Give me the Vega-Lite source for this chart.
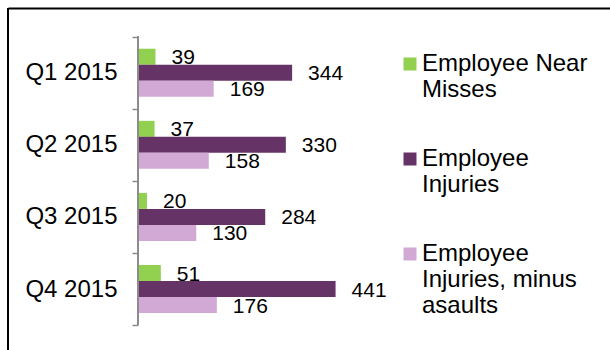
{
  "$schema": "https://vega.github.io/schema/vega-lite/v6.json",
  "width": 602,
  "height": 342,
  "autosize": {"type": "none"},
  "padding": {"left": 8, "top": 8, "right": 0, "bottom": 0},
  "background": "white",
  "config": {"view": {"stroke": null}, "font": "Liberation Sans"},
  "data": {
    "values": [
      {"quarter": "Q1 2015", "series": "Employee Near Misses", "value": 39},
      {"quarter": "Q1 2015", "series": "Employee Injuries", "value": 344},
      {"quarter": "Q1 2015", "series": "Employee Injuries, minus asaults", "value": 169},
      {"quarter": "Q2 2015", "series": "Employee Near Misses", "value": 37},
      {"quarter": "Q2 2015", "series": "Employee Injuries", "value": 330},
      {"quarter": "Q2 2015", "series": "Employee Injuries, minus asaults", "value": 158},
      {"quarter": "Q3 2015", "series": "Employee Near Misses", "value": 20},
      {"quarter": "Q3 2015", "series": "Employee Injuries", "value": 284},
      {"quarter": "Q3 2015", "series": "Employee Injuries, minus asaults", "value": 130},
      {"quarter": "Q4 2015", "series": "Employee Near Misses", "value": 51},
      {"quarter": "Q4 2015", "series": "Employee Injuries", "value": 441},
      {"quarter": "Q4 2015", "series": "Employee Injuries, minus asaults", "value": 176}
    ]
  },
  "encoding": {
    "y": {
      "field": "quarter",
      "type": "nominal",
      "sort": null,
      "scale": {"paddingInner": 0, "paddingOuter": 0.372, "align": 0.535},
      "axis": {
        "orient": "left",
        "offset": -130,
        "domain": false,
        "ticks": true,
        "tickBand": "extent",
        "tickSize": 6,
        "tickColor": "#8c8c8c",
        "tickWidth": 1.5,
        "labelFontSize": 24,
        "labelColor": "black",
        "labelPadding": 15,
        "title": null,
        "grid": false
      }
    },
    "x": {
      "field": "value",
      "type": "quantitative",
      "scale": {"domain": [-290.2, 1053.6], "nice": false, "zero": false},
      "axis": {
        "orient": "top",
        "domain": true,
        "domainColor": "black",
        "domainWidth": 2,
        "ticks": false,
        "labels": false,
        "grid": false,
        "title": null
      }
    }
  },
  "layer": [
    {
      "mark": {"type": "bar"},
      "encoding": {
        "yOffset": {
          "field": "series",
          "type": "nominal",
          "sort": ["Employee Near Misses", "Employee Injuries", "Employee Injuries, minus asaults"],
          "scale": {"paddingInner": 0, "paddingOuter": 0.753}
        },
        "color": {
          "field": "series",
          "type": "nominal",
          "scale": {
            "domain": ["Employee Near Misses", "Employee Injuries", "Employee Injuries, minus asaults"],
            "range": ["#92D050", "#663366", "#D1A9D4"]
          },
          "legend": {
            "orient": "none",
            "legendX": 390,
            "legendY": 44,
            "title": null,
            "padding": 0,
            "symbolType": "square",
            "symbolSize": 169,
            "symbolStrokeWidth": 0,
            "symbolOpacity": 1,
            "labelFontSize": 24,
            "labelColor": "black",
            "labelLimit": 400,
            "labelOffset": 0,
            "labelLineHeight": 27.5,
            "rowPadding": 45,
            "labelExpr": "datum.label == 'Employee Near Misses' ? ['Employee Near', 'Misses'] : datum.label == 'Employee Injuries' ? ['Employee', 'Injuries'] : ['Employee', 'Injuries, minus', 'asaults']"
          }
        }
      }
    },
    {
      "mark": {"type": "text", "align": "left", "baseline": "middle", "dx": 16, "dy": 1.5, "fontSize": 21, "color": "black"},
      "encoding": {
        "yOffset": {
          "field": "series",
          "type": "nominal",
          "sort": ["Employee Near Misses", "Employee Injuries", "Employee Injuries, minus asaults"]
        },
        "text": {"field": "value", "type": "quantitative"}
      }
    },
    {
      "mark": {"type": "rule", "color": "black", "strokeWidth": 2},
      "encoding": {"x": {"datum": -290.2}, "y": null}
    },
    {
      "mark": {"type": "rule", "color": "#8c8c8c", "strokeWidth": 1.5},
      "encoding": {
        "x": {"datum": 0},
        "y": {"datum": "Q1 2015", "type": "nominal", "bandPosition": 0},
        "y2": {"datum": "Q4 2015", "bandPosition": 1}
      }
    }
  ]
}
